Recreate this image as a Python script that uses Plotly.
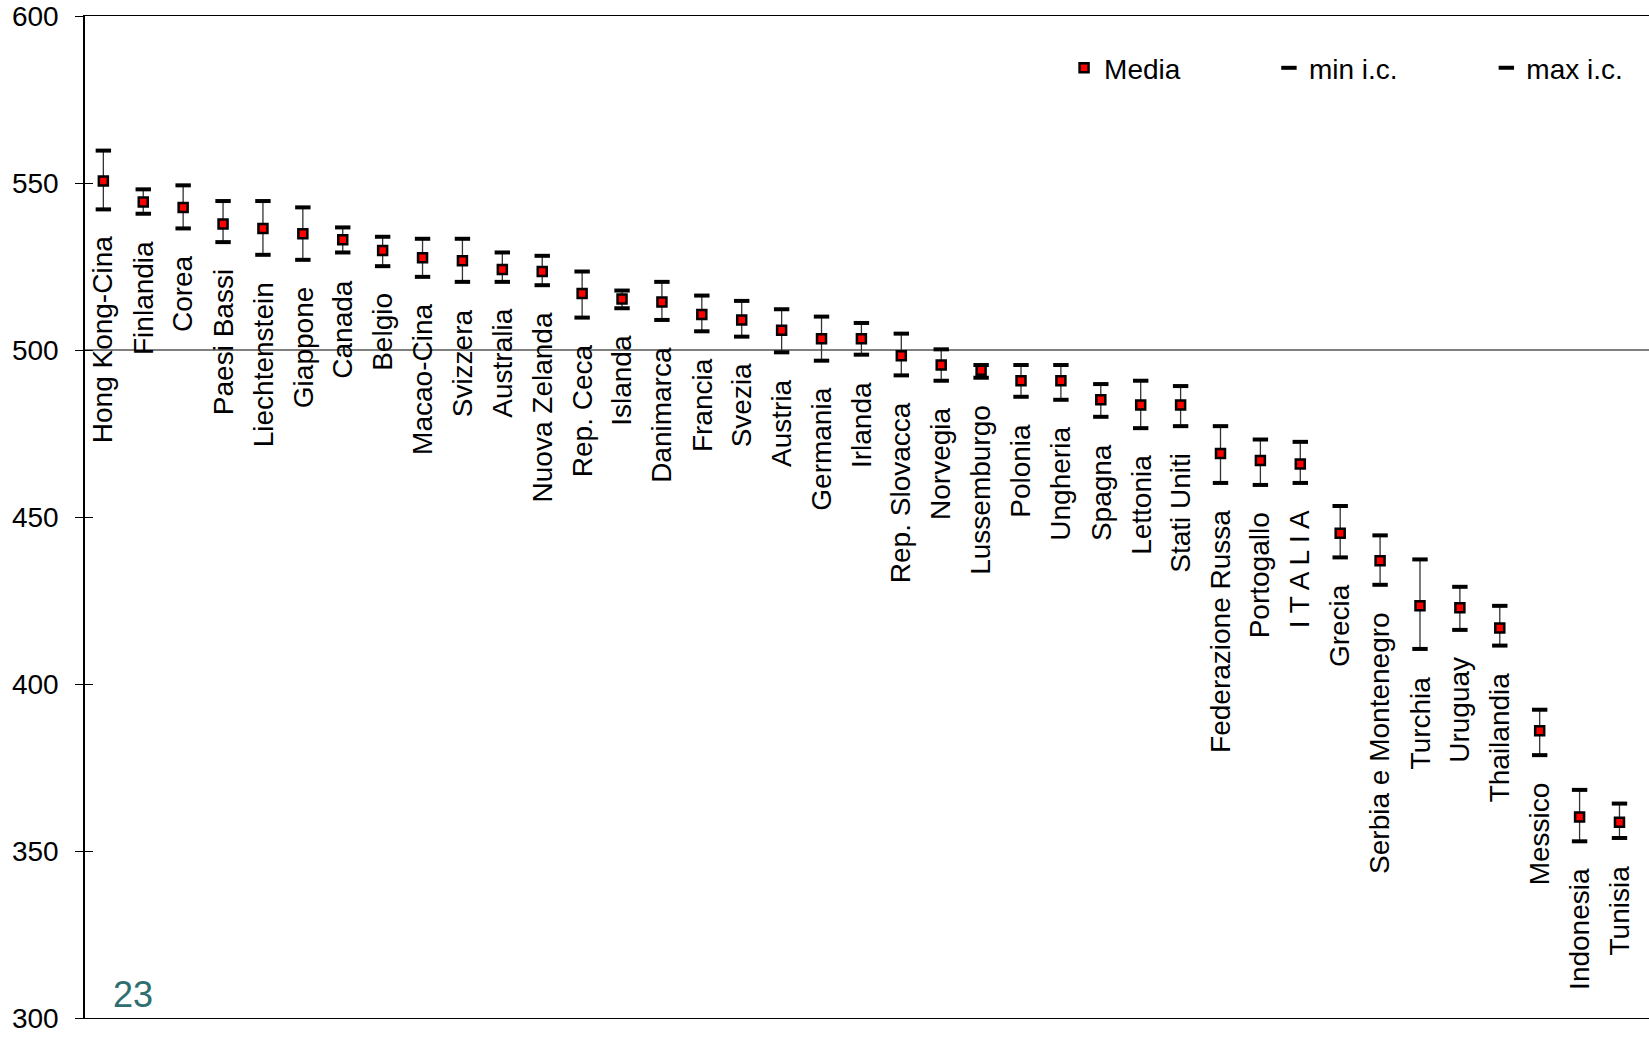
import plotly.graph_objects as go

countries = ["Hong Kong-Cina", "Finlandia", "Corea", "Paesi Bassi", "Liechtenstein", "Giappone",
             "Canada", "Belgio", "Macao-Cina", "Svizzera", "Australia", "Nuova Zelanda",
             "Rep. Ceca", "Islanda", "Danimarca", "Francia", "Svezia", "Austria", "Germania",
             "Irlanda", "Rep. Slovacca", "Norvegia", "Lussemburgo", "Polonia", "Ungheria",
             "Spagna", "Lettonia", "Stati Uniti", "Federazione Russa", "Portogallo", "I T A L I A",
             "Grecia", "Serbia e Montenegro", "Turchia", "Uruguay", "Thailandia", "Messico",
             "Indonesia", "Tunisia", "Brasile"]
media = [550.6, 544.3, 542.7, 537.7, 536.4, 534.8, 533.0, 529.8, 527.6, 526.7, 524.1, 523.5,
         516.9, 515.3, 514.4, 510.6, 509.0, 505.9, 503.4, 503.4, 498.3, 495.5, 493.9, 490.8,
         490.8, 485.1, 483.5, 483.5, 469.0, 466.9, 465.9, 445.1, 436.9, 423.4, 422.8, 416.8,
         386.0, 360.2, 358.6, 356.0]
min_ic = [542.1, 540.8, 536.4, 532.3, 528.5, 527.0, 529.2, 525.1, 521.9, 520.4, 520.4, 519.4,
          509.7, 512.5, 509.0, 505.6, 504.0, 499.3, 496.8, 498.6, 492.4, 490.8, 491.7, 486.0,
          485.1, 480.0, 476.6, 477.2, 460.2, 459.6, 460.2, 437.9, 429.7, 410.5, 416.2, 411.5,
          378.7, 352.9, 353.9, 346.6]
max_ic = [559.7, 548.1, 549.3, 544.6, 544.6, 542.7, 536.7, 533.9, 533.3, 533.3, 529.2, 528.2,
          523.5, 517.8, 520.4, 516.3, 514.7, 512.2, 510.0, 508.1, 504.9, 500.2, 495.5, 495.5,
          495.5, 489.8, 490.8, 489.2, 477.2, 473.2, 472.5, 453.3, 444.5, 437.3, 429.1, 423.4,
          392.3, 368.3, 364.2, 365.4]
ref_lines = [500]
page_number = "23"

FONT = "Liberation Sans, Arial, sans-serif"

err_plus = [mx - m for mx, m in zip(max_ic, media)]
err_minus = [m - mn for m, mn in zip(media, min_ic)]

fig = go.Figure()
fig.add_trace(go.Scatter(
    x=countries, y=media, mode="markers", name="Media", legend="legend",
    marker=dict(symbol="square", size=9, color="#FF0000", line=dict(color="black", width=2.5)),
    error_y=dict(type="data", symmetric=False, array=err_plus, arrayminus=err_minus,
                 color="#333333", thickness=1.3, width=0),
))
fig.add_trace(go.Scatter(
    x=countries, y=min_ic, mode="markers", name="min i.c.", legend="legend2",
    marker=dict(symbol="line-ew", size=11, color="black", line=dict(color="black", width=4)),
))
fig.add_trace(go.Scatter(
    x=countries, y=max_ic, mode="markers", name="max i.c.", yaxis="y2", legend="legend3",
    marker=dict(symbol="line-ew", size=11, color="black", line=dict(color="black", width=4)),
))

annotations = []
for c, mn in zip(countries, min_ic):
    annotations.append(dict(x=c, y=mn, xref="x", yref="y", text=c, showarrow=False,
                            textangle=-90, xanchor="center", yanchor="top", yshift=-25,
                            font=dict(family=FONT, size=28, color="black")))
annotations.append(dict(x=0.0166, y=0.001, xref="paper", yref="paper", text=page_number,
                        showarrow=False, xanchor="left", yanchor="bottom",
                        font=dict(family=FONT, size=36, color="#2E6E6E")))

shapes = [dict(type="line", xref="paper", x0=0, x1=1, yref="y", y0=v, y1=v,
               line=dict(color="black", width=1.2), layer="below") for v in ref_lines]

legend_common = dict(orientation="h", y=0.948, xanchor="left", yanchor="middle",
                     bgcolor="rgba(0,0,0,0)",
                     font=dict(family=FONT, size=28, color="black"))

fig.update_layout(
    width=1649, height=1039,
    margin=dict(l=85, r=0, t=16, b=21, autoexpand=False),
    paper_bgcolor="white", plot_bgcolor="white",
    font=dict(family=FONT, size=28, color="black"),
    showlegend=True,
    legend=dict(x=0.626, **legend_common),
    legend2=dict(x=0.757, **legend_common),
    legend3=dict(x=0.896, **legend_common),
    xaxis=dict(type="category", range=[-0.46, 38.74], showticklabels=False, ticks="",
               showgrid=False, zeroline=False, showline=True, mirror=True,
               linecolor="black", linewidth=1.2),
    yaxis=dict(range=[300, 600], dtick=50, ticks="outside", ticklen=8, tickwidth=1.2,
               tickcolor="black", showgrid=False, zeroline=False, showline=True,
               linecolor="black", linewidth=1.5, ticklabelstandoff=11,
               tickfont=dict(family=FONT, size=28, color="black")),
    yaxis2=dict(range=[300, 600], dtick=50, overlaying="y", side="left", anchor="x",
                ticks="inside", ticklen=8, tickwidth=1.2, tickcolor="black",
                showticklabels=False, showgrid=False, zeroline=False, showline=False),
    annotations=annotations,
    shapes=shapes,
)

fig.write_html("out.html")
